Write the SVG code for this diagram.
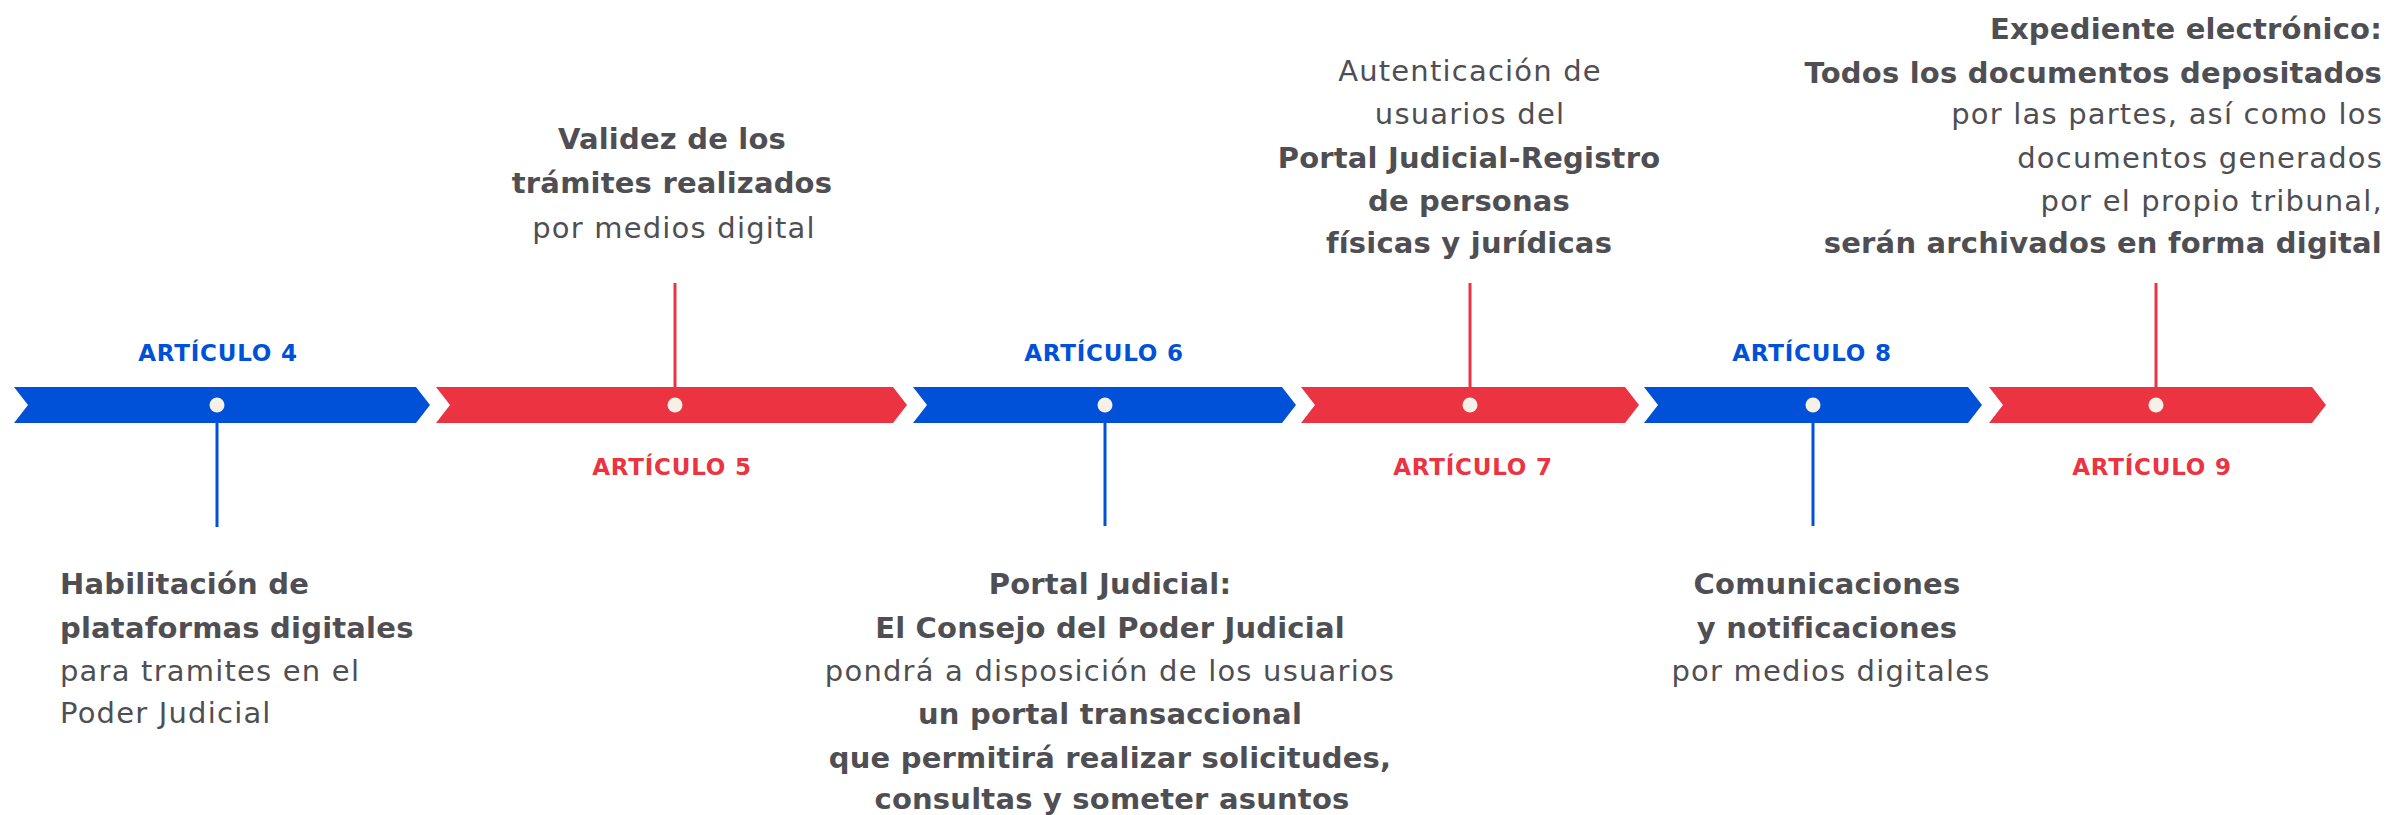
<svg xmlns="http://www.w3.org/2000/svg" width="2392" height="815" viewBox="0 0 2392 815">
<style>
.bg{fill:#ffffff}
.blue{fill:#0050D8}
.red{fill:#EC3341}
.dot{fill:#F6F0E6}
.lb{stroke:#0050D8;stroke-width:3;fill:none}
.lr{stroke:#EC3341;stroke-width:3;fill:none}
.art{font-family:"DejaVu Sans",sans-serif;font-weight:bold;font-size:23px;letter-spacing:0.8px;text-anchor:middle}
.artb{fill:#0050D8}
.artr{fill:#EC3341}
.t{font-family:"DejaVu Sans",sans-serif;font-size:29px;fill:#4F4F53}
.b{font-weight:bold;letter-spacing:0.2px}
.r{font-weight:normal;letter-spacing:1.2px}
.c{text-anchor:middle}
.e{text-anchor:end}
.s{text-anchor:start}
</style>
<rect class="bg" x="0" y="0" width="2392" height="815"/>

<g id="connectors">
<line class="lb" x1="217" y1="423" x2="217" y2="527"/>
<line class="lr" x1="675" y1="283" x2="675" y2="387"/>
<line class="lb" x1="1105" y1="423" x2="1105" y2="526"/>
<line class="lr" x1="1470" y1="283" x2="1470" y2="387"/>
<line class="lb" x1="1813" y1="423" x2="1813" y2="526"/>
<line class="lr" x1="2156" y1="283" x2="2156" y2="387"/>
</g>

<g id="art4">
<polygon class="blue" points="14,387 416,387 430,405 416,423 14,423 28,405"/>
<circle class="dot" cx="217" cy="405" r="7.5"/>
<text class="art artb" x="218" y="361">ARTÍCULO 4</text>
<text class="t s" x="60"><tspan class="b" x="60" y="594">Habilitación de</tspan><tspan class="b" x="60" y="638">plataformas digitales</tspan><tspan class="r" x="60" y="681">para tramites en el</tspan><tspan class="r" x="60" y="723">Poder Judicial</tspan></text>
</g>

<g id="art5">
<polygon class="red" points="436,387 893,387 907,405 893,423 436,423 450,405"/>
<circle class="dot" cx="675" cy="405" r="7.5"/>
<text class="art artr" x="672" y="475">ARTÍCULO 5</text>
<text class="t c"><tspan class="b" x="672" y="149">Validez de los</tspan><tspan class="b" x="672" y="193">trámites realizados</tspan><tspan class="r" x="674" y="238">por medios digital</tspan></text>
</g>

<g id="art6">
<polygon class="blue" points="913,387 1282,387 1296,405 1282,423 913,423 927,405"/>
<circle class="dot" cx="1105" cy="405" r="7.5"/>
<text class="art artb" x="1104" y="361">ARTÍCULO 6</text>
<text class="t c"><tspan class="b" x="1110" y="594">Portal Judicial:</tspan><tspan class="b" x="1110" y="638">El Consejo del Poder Judicial</tspan><tspan class="r" x="1110" y="681">pondrá a disposición de los usuarios</tspan><tspan class="b" x="1110" y="724">un portal transaccional</tspan><tspan class="b" x="1110" y="768">que permitirá realizar solicitudes,</tspan><tspan class="b" x="1112" y="809">consultas y someter asuntos</tspan></text>
</g>

<g id="art7">
<polygon class="red" points="1301,387 1625,387 1639,405 1625,423 1301,423 1315,405"/>
<circle class="dot" cx="1470" cy="405" r="7.5"/>
<text class="art artr" x="1473" y="475">ARTÍCULO 7</text>
<text class="t c"><tspan class="r" x="1470" y="81">Autenticación de</tspan><tspan class="r" x="1470" y="124">usuarios del</tspan><tspan class="b" x="1469" y="168">Portal Judicial-Registro</tspan><tspan class="b" x="1469" y="211">de personas</tspan><tspan class="b" x="1469" y="253">físicas y jurídicas</tspan></text>
</g>

<g id="art8">
<polygon class="blue" points="1644,387 1968,387 1982,405 1968,423 1644,423 1658,405"/>
<circle class="dot" cx="1813" cy="405" r="7.5"/>
<text class="art artb" x="1812" y="361">ARTÍCULO 8</text>
<text class="t c"><tspan class="b" x="1827" y="594">Comunicaciones</tspan><tspan class="b" x="1827" y="638">y notificaciones</tspan><tspan class="r" x="1831" y="681">por medios digitales</tspan></text>
</g>

<g id="art9">
<polygon class="red" points="1989,387 2312,387 2326,405 2312,423 1989,423 2003,405"/>
<circle class="dot" cx="2156" cy="405" r="7.5"/>
<text class="art artr" x="2152" y="475">ARTÍCULO 9</text>
<text class="t e"><tspan class="b" x="2382" y="39">Expediente electrónico:</tspan><tspan class="b" x="2382" y="83">Todos los documentos depositados</tspan><tspan class="r" x="2383" y="124">por las partes, así como los</tspan><tspan class="r" x="2383" y="168">documentos generados</tspan><tspan class="r" x="2383" y="211">por el propio tribunal,</tspan><tspan class="b" x="2382" y="253">serán archivados en forma digital</tspan></text>
</g>
</svg>
